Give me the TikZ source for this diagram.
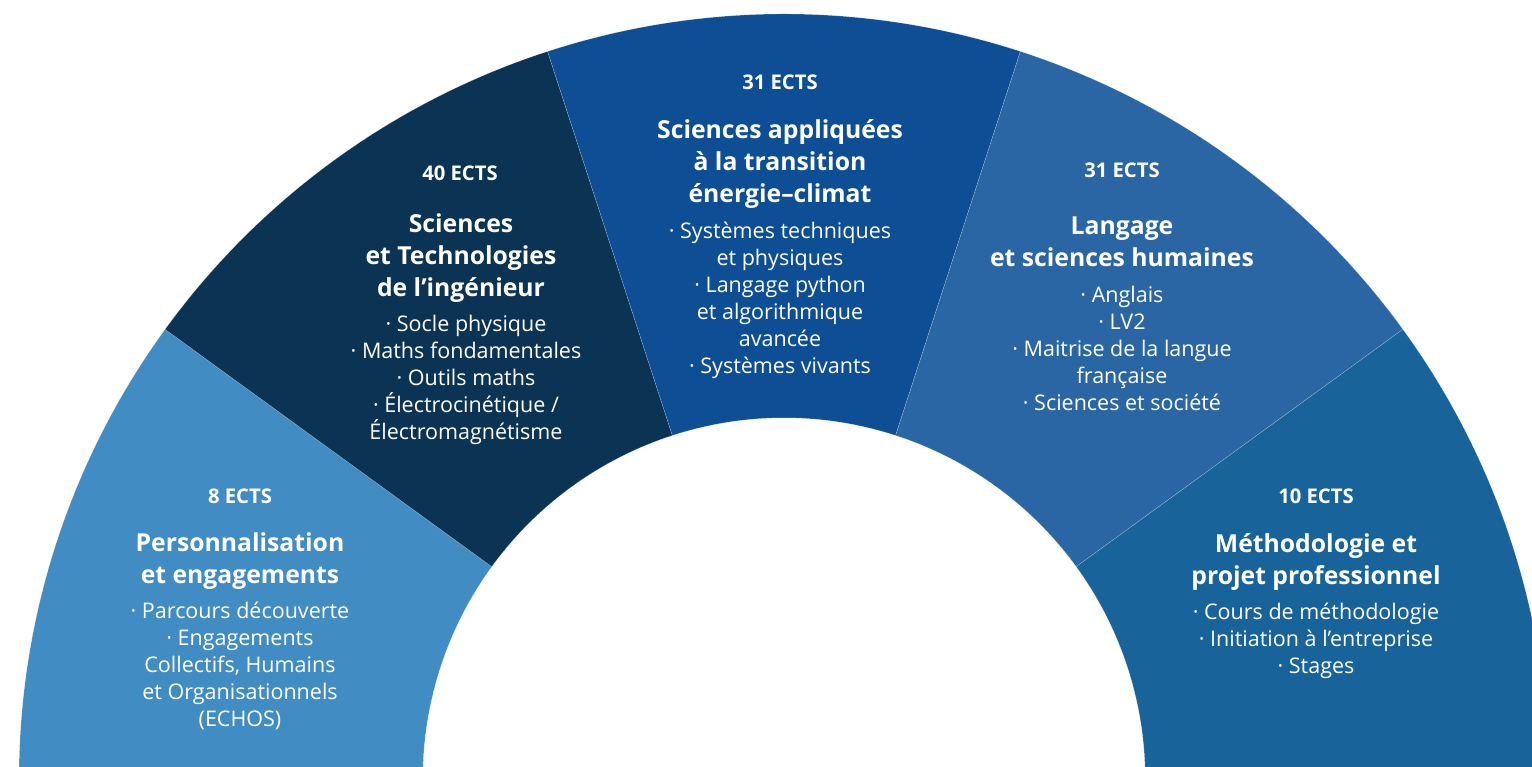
\documentclass[tikz,border=0pt]{standalone}
\usepackage{fontspec}
\setmainfont{Open Sans}
\usepackage{xcolor}
\usepackage{tikz}
\usetikzlibrary{positioning}
\definecolor{PersoBlue}{RGB}{65,140,194}
\definecolor{TechNavy}{RGB}{11,51,84}
\definecolor{ApplBlue}{RGB}{13,78,149}
\definecolor{LangBlue}{RGB}{42,102,163}
\definecolor{MethBlue}{RGB}{23,99,154}

\begin{document}
\begin{tikzpicture}[
                % Styles des secteurs
                sector/.style={draw=white, draw opacity=0.35, line width=0.3pt},
                % Styles des textes
                ectsnode/.style={text=white, font=\bfseries\fontsize{14.4}{15}\selectfont, inner sep=0pt},
                titlenode/.style={text=white, font=\bfseries\fontsize{17.6}{22.8}\selectfont, align=center, inner sep=0pt},
                listnode/.style={text=white, font=\fontsize{15.3}{19.2}\selectfont, align=center, inner sep=0pt}
            ]
                \useasboundingbox (-19.6,0.3) rectangle (18.7,19.475);
                \clip (-19.6,0.3) rectangle (18.7,19.475);

                % --- SECTEURS ---
                \path[sector, fill=PersoBlue] (144:9.03) arc[start angle=144, end angle=180, radius=9.03]
                    -- (180:19.125) arc[start angle=180, end angle=144, radius=19.125] -- cycle;
                \path[sector, fill=TechNavy] (108:9.03) arc[start angle=108, end angle=144, radius=9.03]
                    -- (144:19.125) arc[start angle=144, end angle=108, radius=19.125] -- cycle;
                \path[sector, fill=ApplBlue] (72:9.03) arc[start angle=72, end angle=108, radius=9.03]
                    -- (108:19.125) arc[start angle=108, end angle=72, radius=19.125] -- cycle;
                \path[sector, fill=LangBlue] (36:9.03) arc[start angle=36, end angle=72, radius=9.03]
                    -- (72:19.125) arc[start angle=72, end angle=36, radius=19.125] -- cycle;
                \path[sector, fill=MethBlue] (0:9.03) arc[start angle=0, end angle=36, radius=9.03]
                    -- (36:19.125) arc[start angle=36, end angle=0, radius=19.125] -- cycle;

                % --- TEXTES ---
                % Personnalisation
                \node[ectsnode] (ects1) at (-13.6, 7.075) {8 ECTS};
                \node[titlenode] (titre1) at (-13.6, 5.45) {Personnalisation\\et engagements};
                \node[listnode] (liste1) at (-13.6, 2.825) {· Parcours découverte\\· Engagements\\Collectifs, Humains\\et Organisationnels\\(ECHOS)};

                % Sciences et Technologies
                \node[ectsnode] (ects2) at (-8.1, 15.15) {40 ECTS};
                \node[titlenode] (titre2) at (-8.075, 13.025) {Sciences\\et Technologies\\de l’ingénieur};
                \node[listnode] (liste2) at (-7.95, 9.975) {· Socle physique\\· Maths fondamentales\\· Outils maths\\· Électrocinétique /\\Électromagnétisme};

                % Sciences appliquées
                \node[ectsnode] (ects3) at (-0.1, 17.425) {31 ECTS};
                \node[titlenode] (titre3) at (-0.1, 15.375) {Sciences appliquées\\à la transition\\énergie–climat};
                \node[listnode] (liste3) at (-0.1, 11.96) {· Systèmes techniques\\et physiques\\· Langage python\\et algorithmique\\avancée\\· Systèmes vivants};

                % Langage
                \node[ectsnode] (ects4) at (8.45, 15.225) {31 ECTS};
                \node[titlenode] (titre4) at (8.45, 13.425) {Langage\\et sciences humaines};
                \node[listnode] (liste4) at (8.45, 10.76) {· Anglais\\· LV2\\· Maitrise de la langue\\française\\· Sciences et société};

                % Méthodologie
                \node[ectsnode] (ects5) at (13.3, 7.075) {10 ECTS};
                \node[titlenode] (titre5) at (13.3, 5.425) {Méthodologie et\\projet professionnel};
                \node[listnode] (liste5) at (13.3, 3.46) {· Cours de méthodologie\\· Initiation à l’entreprise\\· Stages};

            \end{tikzpicture}
\end{document}
